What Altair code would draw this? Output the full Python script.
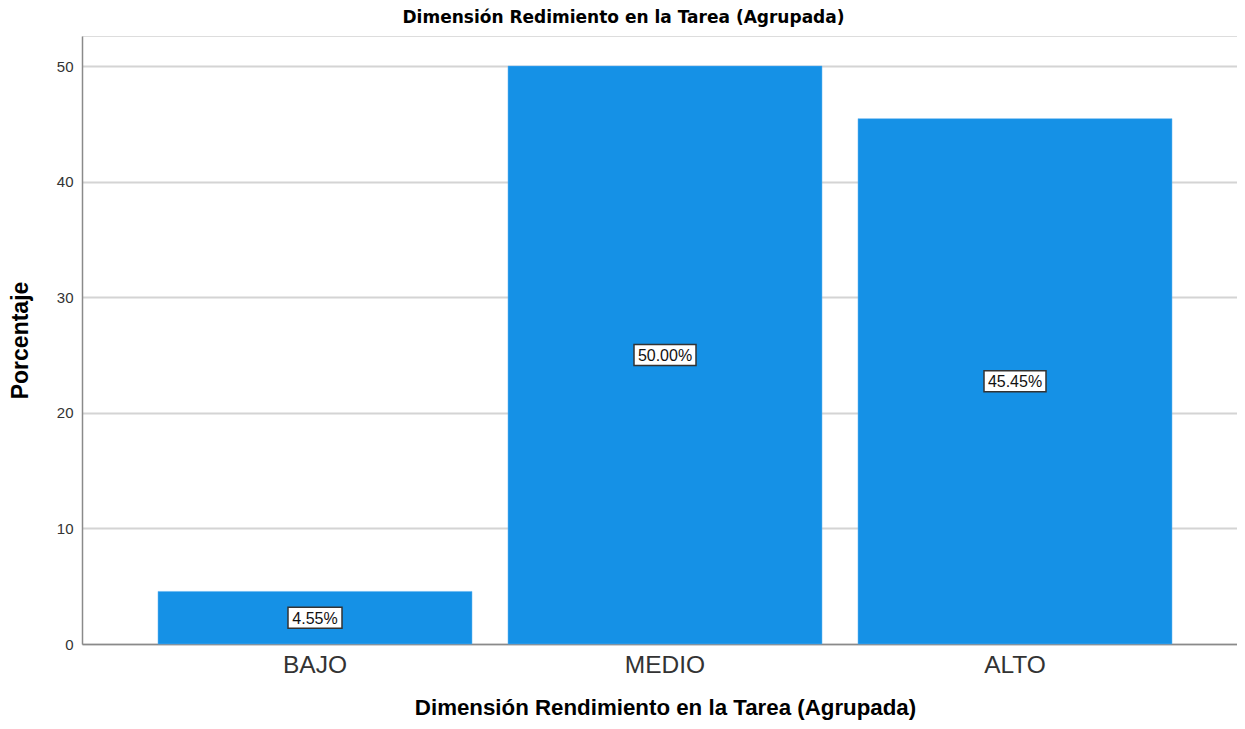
import altair as alt
import pandas as pd

categories = ["BAJO", "MEDIO", "ALTO"]
values = [4.55, 50.00, 45.45]
y_ticks = [0, 10, 20, 30, 40, 50]

df = pd.DataFrame({"cat": categories, "value": values})

FONT = "Liberation Sans"
BAR = "#1591e6"

x_enc = alt.X(
    "cat:N",
    sort=categories,
    scale=alt.Scale(paddingInner=0.103, paddingOuter=0.2015, align=0.539),
    axis=alt.Axis(
        title="Dimensión Rendimiento en la Tarea (Agrupada)",
        titleFont=FONT, titleFontSize=22.3, titleFontWeight="bold", titleColor="#000",
        titlePadding=20, titleX=583, titleAlign="center",
        labelFont=FONT, labelFontSize=24.5, labelColor="#333", labelPadding=9,
        labelAngle=0, ticks=False, domainColor="#8a8a8a", domainWidth=1.5,
        grid=False,
    ),
)

y_scale = alt.Scale(domain=[0, 52.6], nice=False)

bars = alt.Chart(df).mark_bar(color=BAR, stroke="#5aaef0", strokeWidth=0.5).encode(
    x=x_enc,
    y=alt.Y(
        "value:Q",
        scale=y_scale,
        axis=alt.Axis(
            title="Porcentaje", titleFont=FONT, titleFontSize=23, titleFontWeight="bold",
            titleColor="#000", titlePadding=24,
            values=y_ticks, labelFont=FONT, labelFontSize=15, labelColor="#333",
            labelPadding=9, ticks=False, domainColor="#8a8a8a", domainWidth=1.5,
            grid=True, gridColor="#d4d4d4", gridWidth=2,
        ),
    ),
)

base = alt.Chart(df).transform_calculate(
    mid="datum.value / 2",
    label="format(datum.value, '.2f') + '%'",
    long="length(format(datum.value, '.2f') + '%') > 5",
)

box_wide = base.transform_filter("datum.long").mark_rect(
    width=62, height=21, fill="white", stroke="#333", strokeWidth=1.5
).encode(x=alt.X("cat:N", sort=categories), y=alt.Y("mid:Q", scale=y_scale))

box_narrow = base.transform_filter("!datum.long").mark_rect(
    width=54, height=21, fill="white", stroke="#333", strokeWidth=1.5
).encode(x=alt.X("cat:N", sort=categories), y=alt.Y("mid:Q", scale=y_scale))

texts = base.mark_text(font=FONT, fontSize=16, color="#111", baseline="middle", dy=1).encode(
    x=alt.X("cat:N", sort=categories),
    y=alt.Y("mid:Q", scale=y_scale),
    text="label:N",
)

chart = alt.layer(bars, box_wide, box_narrow, texts).properties(
    width=1155,
    height=608,
    autosize=alt.AutoSizeParams(type="none"),
    padding={"left": 74, "top": 28, "right": 0, "bottom": 77},
    title=alt.TitleParams(
        "Dimensión Redimiento en la Tarea (Agrupada)",
        font="DejaVu Sans", fontSize=17, fontWeight="bold", color="#000",
        anchor="middle", dx=-36, offset=9,
    ),
).configure_view(stroke=None).configure(background="white")

chart.save("out.html", embed_options={"renderer": "svg", "actions": False})
